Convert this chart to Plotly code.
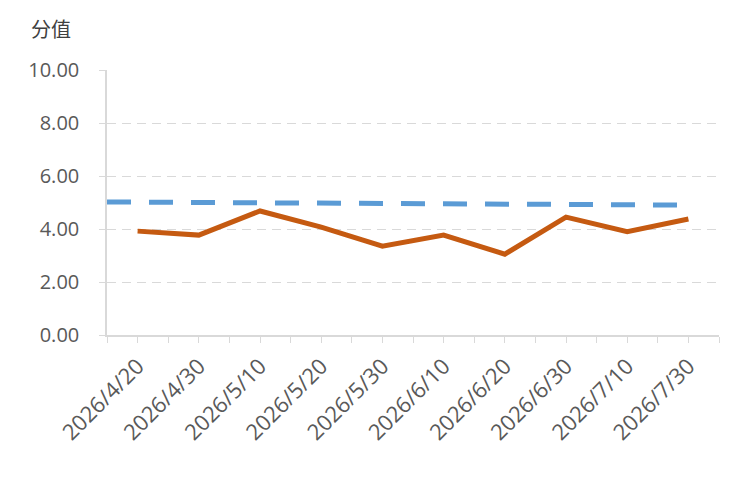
import plotly.graph_objects as go

categories = ["2026/4/20", "2026/4/30", "2026/5/10", "2026/5/20", "2026/5/30",
              "2026/6/10", "2026/6/20", "2026/6/30", "2026/7/10", "2026/7/30"]
scores = [3.92, 3.77, 4.68, 4.07, 3.35, 3.77, 3.05, 4.45, 3.90, 4.38]
# benchmark line (linear), given at its start and end in category units
bench_x = [-0.5, 9.1]
bench_y = [5.02, 4.90]
y_ticks = [0, 2, 4, 6, 8, 10]
y_title = "分值"

idx = list(range(len(categories)))
half_ticks = [i - 0.5 for i in range(len(categories) + 1)]

FONT = "Open Sans, Segoe UI, Noto Sans CJK SC, sans-serif"
GRAY = "#595959"
LINE = "#D9D9D9"

fig = go.Figure()
fig.add_trace(go.Scatter(x=bench_x, y=bench_y, mode="lines",
                         line=dict(color="#5B9BD5", width=5, dash="24px,18px"),
                         hoverinfo="skip", showlegend=False))
fig.add_trace(go.Scatter(x=idx, y=scores, mode="lines",
                         line=dict(color="#C55A11", width=5),
                         showlegend=False))

fig.update_layout(
    width=750, height=481,
    margin=dict(l=107, r=31, t=70, b=146),
    paper_bgcolor="white", plot_bgcolor="white",
    font=dict(family=FONT, color=GRAY, size=20),
    showlegend=False,
    annotations=[dict(text=y_title, xref="paper", yref="paper",
                      x=-0.0915, y=1.0, yshift=42, xanchor="center", yanchor="middle",
                      showarrow=False,
                      font=dict(family="Noto Sans CJK SC, sans-serif", size=20, color="#404040"))],
)
fig.update_xaxes(
    range=[-0.5, len(categories) - 0.5],
    tickmode="array", tickvals=idx, ticktext=categories,
    tickangle=-45, ticks="outside", ticklen=6, tickcolor=LINE, tickwidth=1,
    ticklabelstandoff=2,
    minor=dict(tickmode="array", tickvals=half_ticks, ticks="outside", ticklen=6,
               tickcolor=LINE, tickwidth=1, showgrid=False),
    showline=True, linecolor=LINE, linewidth=1.5,
    showgrid=False, zeroline=False,
    tickfont=dict(size=22, color=GRAY),
)
fig.update_yaxes(
    range=[0, 10], tickmode="array", tickvals=y_ticks, tickformat=".2f",
    ticks="outside", ticklen=6, tickcolor=LINE, tickwidth=1,
    ticklabelstandoff=16,
    showline=True, linecolor=LINE, linewidth=1.5,
    showgrid=True, gridcolor=LINE, gridwidth=1.3, griddash="9px,6px",
    zeroline=False,
    tickfont=dict(size=20, color=GRAY),
)

fig.write_html("out.html")
